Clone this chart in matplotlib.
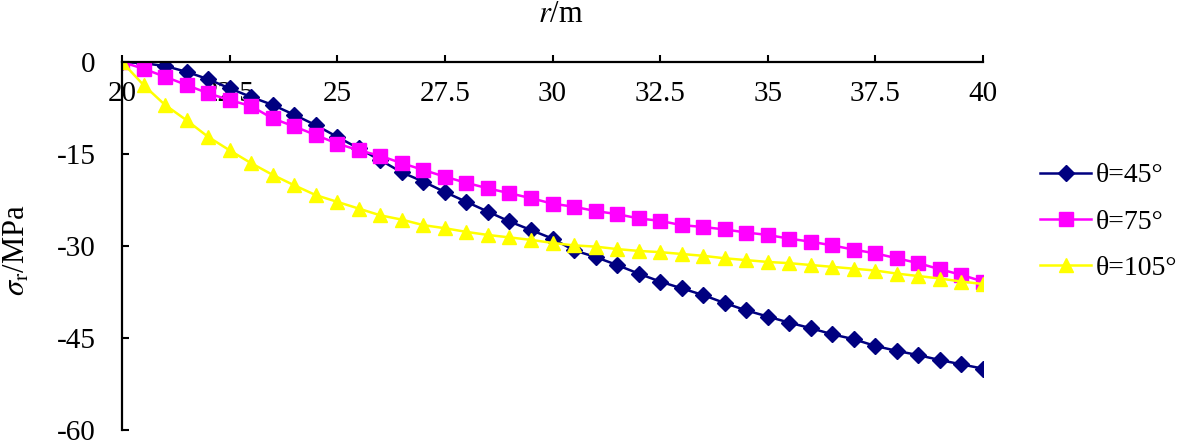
import numpy as np
import matplotlib.pyplot as plt

plt.rcParams['font.family'] = 'Liberation Serif'
plt.rcParams['mathtext.fontset'] = 'stix'
plt.rcParams['axes.unicode_minus'] = False

r = [20 + 0.5 * i for i in range(41)]

s45 = [0, -0.2, -0.65, -1.6, -2.8, -4.3, -5.7, -7.0, -8.6, -10.3,
       -12.2, -14.1, -16.0, -18.0, -19.5, -21.2, -22.8, -24.4, -26.0, -27.4,
       -28.8, -30.7, -31.8, -33.1, -34.5, -35.8, -36.9, -38.0, -39.3, -40.5,
       -41.5, -42.5, -43.4, -44.4, -45.2, -46.3, -47.1, -47.8, -48.6, -49.3,
       -50.0]
s75 = [0, -1.1, -2.4, -3.75, -5.1, -6.2, -7.2, -9.2, -10.5, -11.9,
       -13.3, -14.4, -15.3, -16.5, -17.6, -18.7, -19.7, -20.6, -21.4, -22.2,
       -23.1, -23.6, -24.3, -24.8, -25.5, -25.9, -26.6, -26.9, -27.3, -27.8,
       -28.2, -28.8, -29.3, -29.9, -30.6, -31.2, -32.0, -32.8, -33.8, -34.7,
       -35.8]
s105 = [0, -3.75, -7.0, -9.5, -12.2, -14.4, -16.5, -18.4, -20.1, -21.7,
        -22.8, -23.9, -25.0, -25.7, -26.6, -27.1, -27.7, -28.2, -28.6, -29.0,
        -29.5, -29.9, -30.1, -30.5, -30.8, -31.0, -31.3, -31.6, -32.0, -32.3,
        -32.6, -32.8, -33.1, -33.4, -33.7, -34.0, -34.5, -34.9, -35.3, -35.8,
        -36.2]

xticks = [20, 22.5, 25, 27.5, 30, 32.5, 35, 37.5, 40]
xlabels = ['20', '22.5', '25', '27.5', '30', '32.5', '35', '37.5', '40']
yticks = [0, -15, -30, -45, -60]

fig = plt.figure(figsize=(11.81, 4.44), dpi=100)
ax = fig.add_axes([122 / 1181, 1 - 430 / 444, (983 - 122) / 1181, (430 - 62) / 444])

ax.plot(r, s45, color='#000080', marker='D', markersize=8.5, lw=1.8, label='θ=45°')
ax.plot(r, s75, color='#FF00FF', marker='s', markersize=9.5, lw=1.8, label='θ=75°')
ax.plot(r, s105, color='#FFFF00', marker='^', markersize=10, lw=1.8, label='θ=105°')

ax.set_xlim(20, 40)
ax.set_ylim(-60, 0)
ax.spines['right'].set_visible(False)
ax.spines['top'].set_visible(False)
ax.spines['bottom'].set_position(('data', 0))
ax.spines['bottom'].set_linewidth(1.6)
ax.spines['left'].set_linewidth(1.6)

ax.set_xticks(xticks)
ax.set_xticklabels(xlabels)
ax.set_yticks(yticks)
ax.tick_params(axis='x', direction='in', length=5, width=1.5, pad=14, labelsize=21)
ax.tick_params(axis='y', direction='in', length=5, width=1.5, pad=19, labelsize=21)

fig.text(561 / 1181, 1 - 15 / 444, r'$r$/m', ha='center', va='center', fontsize=22)
fig.text(17 / 1181, 1 - 250 / 444, r'$\sigma_\mathrm{r}$/MPa', ha='center', va='center',
         rotation=90, fontsize=22)

fig.legend(loc='center left', bbox_to_anchor=(1040 / 1181, 0.5), frameon=False, fontsize=20,
           handlelength=1.85, labelspacing=0.75, handletextpad=0.15,
           borderpad=0, borderaxespad=0)

fig.savefig('out.png', dpi=100)
